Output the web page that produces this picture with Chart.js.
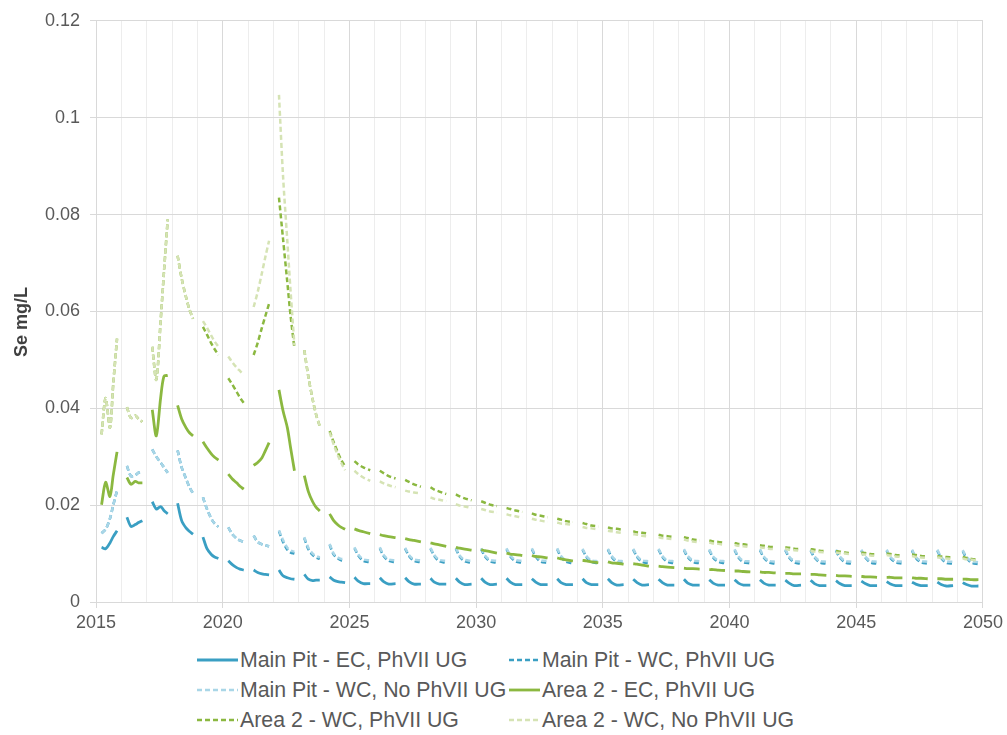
<!DOCTYPE html>
<html>
<head>
<meta charset="utf-8">
<title>Se mg/L</title>
<script src="https://cdn.jsdelivr.net/npm/chart.js@4.4.1/dist/chart.umd.min.js"></script>
<style>
  html, body { margin: 0; padding: 0; background: #fff; }
  #wrap { position: relative; width: 1007px; height: 735px; overflow: hidden; }
  #chart { position: absolute; left: 0; top: 0; }
  #legend { position: absolute; left: 0; top: 640px; width: 1007px; height: 95px;
            font: 21.3px "Liberation Sans", Arial, sans-serif; color: #595959; }
  .item { position: absolute; height: 26px; line-height: 26px; display: flex; align-items: center; white-space: nowrap; }
  .item svg { margin-right: 2px; }
</style>
</head>
<body>
<div id="wrap">
  <canvas id="chart" width="1007" height="640"></canvas>
  <div id="legend"></div>
</div>
<script>
// yearly sampling: each year is one run of points, then a break
const earlyYears = [2015, 2016, 2017, 2018, 2019, 2020, 2021, 2022, 2023, 2024];
const lateYears = [2025, 2026, 2027, 2028, 2029, 2030, 2031, 2032, 2033, 2034, 2035, 2036,
  2037, 2038, 2039, 2040, 2041, 2042, 2043, 2044, 2045, 2046, 2047, 2048, 2049];
const earlyOffsets = [0.22, 0.38, 0.55, 0.68, 0.83];
const lateOffsets = [0.2, 0.35, 0.55, 0.82];

const xTicks = [2015, 2020, 2025, 2030, 2035, 2040, 2045, 2050];
const yTicks = [0, 0.02, 0.04, 0.06, 0.08, 0.1, 0.12];
const yTitle = 'Se mg/L';

const seriesNames = [
  'Main Pit - EC, PhVII UG',
  'Main Pit - WC, PhVII UG',
  'Main Pit - WC, No PhVII UG',
  'Area 2 - EC, PhVII UG',
  'Area 2 - WC, PhVII UG',
  'Area 2 - WC, No PhVII UG'
];

// Se mg/L, early years 5 values per year, later years 4 values per year
const mainPitEC = [
  0.0113, 0.0110, 0.0122, 0.0135, 0.0147,
  0.0175, 0.0156, 0.0160, 0.0164, 0.0168,
  0.0207, 0.0192, 0.0197, 0.0189, 0.0182,
  0.0204, 0.0168, 0.0153, 0.0146, 0.0140,
  0.0134, 0.0110, 0.0098, 0.0093, 0.0090,
  0.0085, 0.0077, 0.0071, 0.0068, 0.0066,
  0.0066, 0.0061, 0.0058, 0.0057, 0.0056,
  0.0066, 0.0054, 0.0050, 0.0048, 0.0047,
  0.0057, 0.0047, 0.0044, 0.0045, 0.0045,
  0.0052, 0.0045, 0.0042, 0.0041, 0.0040,
  0.0051, 0.0043, 0.0038, 0.0038,
  0.0050, 0.0042, 0.0037, 0.0038,
  0.0050, 0.0042, 0.0037, 0.0037,
  0.0049, 0.0041, 0.0037, 0.0037,
  0.0049, 0.0041, 0.0036, 0.0037,
  0.0049, 0.0041, 0.0036, 0.0037,
  0.0049, 0.0041, 0.0036, 0.0036,
  0.0048, 0.0041, 0.0036, 0.0036,
  0.0048, 0.0040, 0.0036, 0.0036,
  0.0048, 0.0040, 0.0036, 0.0036,
  0.0048, 0.0040, 0.0035, 0.0036,
  0.0047, 0.0040, 0.0035, 0.0036,
  0.0047, 0.0040, 0.0035, 0.0035,
  0.0047, 0.0039, 0.0035, 0.0035,
  0.0046, 0.0039, 0.0035, 0.0035,
  0.0046, 0.0039, 0.0035, 0.0035,
  0.0046, 0.0039, 0.0035, 0.0035,
  0.0045, 0.0039, 0.0034, 0.0035,
  0.0045, 0.0038, 0.0034, 0.0034,
  0.0044, 0.0038, 0.0034, 0.0034,
  0.0043, 0.0038, 0.0034, 0.0034,
  0.0042, 0.0037, 0.0034, 0.0034,
  0.0041, 0.0037, 0.0034, 0.0034,
  0.0041, 0.0036, 0.0033, 0.0034,
  0.0040, 0.0036, 0.0033, 0.0033
];

const mainPitWC = [
  0.0142, 0.0150, 0.0172, 0.0200, 0.0230,
  0.0281, 0.0260, 0.0262, 0.0267, 0.0271,
  0.0315, 0.0300, 0.0288, 0.0278, 0.0267,
  0.0313, 0.0278, 0.0255, 0.0238, 0.0224,
  0.0216, 0.0192, 0.0172, 0.0162, 0.0155,
  0.0154, 0.0140, 0.0131, 0.0127, 0.0124,
  0.0137, 0.0124, 0.0119, 0.0117, 0.0115,
  0.0146, 0.0124, 0.0108, 0.0102, 0.0100,
  0.0132, 0.0109, 0.0097, 0.0092, 0.0089,
  0.0118, 0.0098, 0.0090, 0.0086, 0.0085,
  0.0111, 0.0096, 0.0085, 0.0082,
  0.0111, 0.0095, 0.0085, 0.0082,
  0.0110, 0.0095, 0.0085, 0.0082,
  0.0110, 0.0095, 0.0084, 0.0081,
  0.0110, 0.0094, 0.0084, 0.0081,
  0.0109, 0.0094, 0.0084, 0.0081,
  0.0109, 0.0094, 0.0084, 0.0081,
  0.0109, 0.0094, 0.0083, 0.0081,
  0.0109, 0.0093, 0.0083, 0.0080,
  0.0108, 0.0093, 0.0083, 0.0080,
  0.0108, 0.0093, 0.0083, 0.0080,
  0.0108, 0.0093, 0.0083, 0.0080,
  0.0108, 0.0093, 0.0083, 0.0080,
  0.0107, 0.0093, 0.0083, 0.0080,
  0.0107, 0.0092, 0.0083, 0.0080,
  0.0107, 0.0092, 0.0082, 0.0080,
  0.0107, 0.0092, 0.0082, 0.0079,
  0.0107, 0.0092, 0.0082, 0.0079,
  0.0106, 0.0092, 0.0082, 0.0079,
  0.0106, 0.0092, 0.0082, 0.0079,
  0.0106, 0.0092, 0.0082, 0.0079,
  0.0106, 0.0091, 0.0082, 0.0079,
  0.0106, 0.0091, 0.0082, 0.0079,
  0.0106, 0.0091, 0.0081, 0.0079,
  0.0105, 0.0091, 0.0081, 0.0078
];

const mainPitWCNo = [
  0.0142, 0.0150, 0.0172, 0.0200, 0.0230,
  0.0281, 0.0260, 0.0262, 0.0267, 0.0271,
  0.0315, 0.0300, 0.0288, 0.0278, 0.0267,
  0.0313, 0.0278, 0.0255, 0.0238, 0.0224,
  0.0216, 0.0192, 0.0172, 0.0162, 0.0155,
  0.0154, 0.0140, 0.0131, 0.0127, 0.0124,
  0.0137, 0.0124, 0.0119, 0.0117, 0.0115,
  0.0148, 0.0128, 0.0112, 0.0106, 0.0104,
  0.0134, 0.0112, 0.0100, 0.0095, 0.0092,
  0.0120, 0.0100, 0.0092, 0.0089, 0.0088,
  0.0113, 0.0098, 0.0088, 0.0086,
  0.0113, 0.0097, 0.0088, 0.0086,
  0.0112, 0.0097, 0.0088, 0.0086,
  0.0112, 0.0097, 0.0087, 0.0085,
  0.0112, 0.0096, 0.0087, 0.0085,
  0.0111, 0.0096, 0.0087, 0.0085,
  0.0111, 0.0096, 0.0087, 0.0085,
  0.0111, 0.0096, 0.0086, 0.0085,
  0.0111, 0.0095, 0.0086, 0.0084,
  0.0110, 0.0095, 0.0086, 0.0084,
  0.0110, 0.0095, 0.0086, 0.0084,
  0.0110, 0.0095, 0.0086, 0.0084,
  0.0110, 0.0095, 0.0086, 0.0084,
  0.0109, 0.0095, 0.0086, 0.0084,
  0.0109, 0.0094, 0.0086, 0.0084,
  0.0109, 0.0094, 0.0085, 0.0084,
  0.0109, 0.0094, 0.0085, 0.0083,
  0.0109, 0.0094, 0.0085, 0.0083,
  0.0108, 0.0094, 0.0085, 0.0083,
  0.0108, 0.0094, 0.0085, 0.0083,
  0.0108, 0.0094, 0.0085, 0.0083,
  0.0108, 0.0093, 0.0085, 0.0083,
  0.0108, 0.0093, 0.0085, 0.0083,
  0.0108, 0.0093, 0.0084, 0.0083,
  0.0107, 0.0093, 0.0084, 0.0082
];

const area2EC = [
  0.0201, 0.0247, 0.0218, 0.0262, 0.0310,
  0.0257, 0.0243, 0.0249, 0.0246, 0.0246,
  0.0397, 0.0343, 0.0421, 0.0466, 0.0468,
  0.0406, 0.0378, 0.0360, 0.0350, 0.0343,
  0.0331, 0.0318, 0.0306, 0.0299, 0.0293,
  0.0264, 0.0254, 0.0246, 0.0239, 0.0233,
  0.0282, 0.0288, 0.0298, 0.0312, 0.0329,
  0.0438, 0.0395, 0.0360, 0.0318, 0.0271,
  0.0261, 0.0228, 0.0207, 0.0196, 0.0188,
  0.0182, 0.0168, 0.0159, 0.0154, 0.0150,
  0.0151, 0.0148, 0.0145, 0.0141,
  0.0139, 0.0137, 0.0135, 0.0133,
  0.0131, 0.0129, 0.0127, 0.0124,
  0.0122, 0.0120, 0.0118, 0.0115,
  0.0113, 0.0111, 0.0109, 0.0107,
  0.0108, 0.0106, 0.0104, 0.0101,
  0.0101, 0.0099, 0.0098, 0.0096,
  0.0096, 0.0094, 0.0093, 0.0091,
  0.0091, 0.0089, 0.0087, 0.0085,
  0.0086, 0.0085, 0.0083, 0.0081,
  0.0083, 0.0081, 0.0080, 0.0078,
  0.0079, 0.0078, 0.0076, 0.0074,
  0.0074, 0.0073, 0.0072, 0.0071,
  0.0070, 0.0069, 0.0069, 0.0068,
  0.0067, 0.0067, 0.0066, 0.0065,
  0.0064, 0.0064, 0.0063, 0.0062,
  0.0062, 0.0061, 0.0061, 0.0060,
  0.0059, 0.0059, 0.0058, 0.0058,
  0.0057, 0.0057, 0.0056, 0.0055,
  0.0055, 0.0054, 0.0054, 0.0053,
  0.0053, 0.0052, 0.0052, 0.0051,
  0.0051, 0.0051, 0.0050, 0.0050,
  0.0050, 0.0049, 0.0049, 0.0048,
  0.0048, 0.0048, 0.0047, 0.0047,
  0.0047, 0.0047, 0.0046, 0.0046
];

const area2WC = [
  0.0346, 0.0421, 0.0360, 0.0450, 0.0544,
  0.0402, 0.0380, 0.0385, 0.0378, 0.0372,
  0.0527, 0.0459, 0.0580, 0.0680, 0.0790,
  0.0715, 0.0668, 0.0630, 0.0605, 0.0585,
  0.0568, 0.0552, 0.0534, 0.0522, 0.0510,
  0.0462, 0.0449, 0.0434, 0.0422, 0.0411,
  0.0510, 0.0535, 0.0567, 0.0590, 0.0616,
  0.0835, 0.0750, 0.0660, 0.0590, 0.0524,
  0.0520, 0.0465, 0.0418, 0.0388, 0.0363,
  0.0353, 0.0330, 0.0308, 0.0293, 0.0280,
  0.0291, 0.0284, 0.0278, 0.0272,
  0.0271, 0.0266, 0.0260, 0.0255,
  0.0252, 0.0248, 0.0243, 0.0238,
  0.0237, 0.0232, 0.0228, 0.0223,
  0.0222, 0.0218, 0.0214, 0.0210,
  0.0208, 0.0205, 0.0201, 0.0198,
  0.0194, 0.0192, 0.0189, 0.0186,
  0.0183, 0.0180, 0.0178, 0.0175,
  0.0172, 0.0170, 0.0167, 0.0165,
  0.0163, 0.0161, 0.0158, 0.0156,
  0.0154, 0.0152, 0.0151, 0.0149,
  0.0146, 0.0144, 0.0143, 0.0141,
  0.0139, 0.0137, 0.0136, 0.0134,
  0.0134, 0.0132, 0.0129, 0.0127,
  0.0127, 0.0125, 0.0124, 0.0122,
  0.0122, 0.0120, 0.0119, 0.0117,
  0.0117, 0.0116, 0.0114, 0.0113,
  0.0113, 0.0112, 0.0110, 0.0109,
  0.0109, 0.0108, 0.0106, 0.0105,
  0.0105, 0.0104, 0.0102, 0.0101,
  0.0102, 0.0101, 0.0099, 0.0098,
  0.0100, 0.0099, 0.0097, 0.0096,
  0.0098, 0.0097, 0.0095, 0.0094,
  0.0095, 0.0094, 0.0093, 0.0092,
  0.0093, 0.0091, 0.0089, 0.0087
];

const area2WCNo = [
  0.0346, 0.0421, 0.0360, 0.0450, 0.0544,
  0.0402, 0.0380, 0.0385, 0.0378, 0.0372,
  0.0527, 0.0459, 0.0580, 0.0680, 0.0790,
  0.0715, 0.0668, 0.0630, 0.0605, 0.0585,
  0.0580, 0.0566, 0.0550, 0.0538, 0.0527,
  0.0507, 0.0495, 0.0484, 0.0477, 0.0469,
  0.0609, 0.0640, 0.0680, 0.0712, 0.0746,
  0.1047, 0.0880, 0.0745, 0.0640, 0.0530,
  0.0520, 0.0465, 0.0418, 0.0388, 0.0363,
  0.0350, 0.0325, 0.0302, 0.0287, 0.0272,
  0.0271, 0.0264, 0.0257, 0.0250,
  0.0249, 0.0245, 0.0241, 0.0237,
  0.0230, 0.0228, 0.0226, 0.0224,
  0.0216, 0.0213, 0.0211, 0.0208,
  0.0202, 0.0199, 0.0197, 0.0194,
  0.0192, 0.0190, 0.0187, 0.0185,
  0.0181, 0.0179, 0.0177, 0.0174,
  0.0172, 0.0170, 0.0168, 0.0165,
  0.0164, 0.0162, 0.0161, 0.0159,
  0.0155, 0.0153, 0.0152, 0.0150,
  0.0147, 0.0146, 0.0144, 0.0142,
  0.0140, 0.0139, 0.0137, 0.0135,
  0.0134, 0.0132, 0.0131, 0.0129,
  0.0129, 0.0127, 0.0125, 0.0123,
  0.0123, 0.0121, 0.0120, 0.0118,
  0.0118, 0.0116, 0.0115, 0.0113,
  0.0113, 0.0112, 0.0110, 0.0109,
  0.0110, 0.0108, 0.0107, 0.0106,
  0.0106, 0.0104, 0.0103, 0.0102,
  0.0102, 0.0101, 0.0100, 0.0098,
  0.0099, 0.0098, 0.0096, 0.0095,
  0.0097, 0.0096, 0.0094, 0.0093,
  0.0095, 0.0093, 0.0092, 0.0091,
  0.0092, 0.0091, 0.0090, 0.0089,
  0.0090, 0.0088, 0.0087, 0.0085
];

const TEAL = '#3a9fc3';
const LIGHT_BLUE = '#a9d6e7';
const GREEN = '#8bb840';
const LIGHT_GREEN = '#d5e3b4';
const DASH = [5, 3];
const FONT = '"Liberation Sans", Arial, sans-serif';

// turn a flat value list into {x, y} runs with a null between years
function toPoints(values) {
  const pts = [];
  let k = 0;
  earlyYears.forEach(yr => {
    earlyOffsets.forEach(off => pts.push({ x: yr + off, y: values[k++] }));
    pts.push({ x: yr + 0.95, y: null });
  });
  lateYears.forEach(yr => {
    lateOffsets.forEach(off => pts.push({ x: yr + off, y: values[k++] }));
    pts.push({ x: yr + 0.95, y: null });
  });
  return pts;
}

const seriesStyle = [
  { values: mainPitEC, color: TEAL, dash: [], width: 2.8 },
  { values: mainPitWC, color: TEAL, dash: DASH, width: 2.5 },
  { values: mainPitWCNo, color: LIGHT_BLUE, dash: DASH, width: 2.5 },
  { values: area2EC, color: GREEN, dash: [], width: 2.8 },
  { values: area2WC, color: GREEN, dash: DASH, width: 2.5 },
  { values: area2WCNo, color: LIGHT_GREEN, dash: DASH, width: 2.5 }
];

const datasets = seriesStyle.map((s, i) => ({
  label: seriesNames[i],
  data: toPoints(s.values),
  borderColor: s.color,
  backgroundColor: s.color,
  borderWidth: s.width,
  borderDash: s.dash,
  borderCapStyle: 'butt',
  pointRadius: 0,
  tension: 0.3,
  spanGaps: false,
  order: -i // later series paint over earlier ones
}));

// vertical axis caption, placed a little below the plot's middle
const axisCaption = {
  id: 'axisCaption',
  afterDraw(c) {
    const ctx = c.ctx;
    ctx.save();
    ctx.translate(22, 322);
    ctx.rotate(-Math.PI / 2);
    ctx.font = `bold 18px ${FONT}`;
    ctx.fillStyle = '#404040';
    ctx.textAlign = 'center';
    ctx.textBaseline = 'middle';
    ctx.fillText(yTitle, 0, 0);
    ctx.restore();
  }
};

const tickFont = { family: FONT, size: 18 };

const chart = new Chart(document.getElementById('chart'), {
  type: 'line',
  data: { datasets },
  plugins: [axisCaption],
  options: {
    responsive: false,
    animation: false,
    layout: { padding: { top: 17, right: 24, left: 0, bottom: 0 } },
    plugins: { legend: { display: false }, tooltip: { enabled: false } },
    scales: {
      x: {
        type: 'linear',
        min: xTicks[0],
        max: xTicks[xTicks.length - 1],
        afterFit: s => { s.height = 38; },
        ticks: {
          stepSize: 1,
          autoSkip: false,
          maxRotation: 0,
          padding: 4,
          color: '#595959',
          font: tickFont,
          callback: v => (xTicks.includes(v) ? String(v) : '')
        },
        grid: {
          color: c => (c.tick && c.tick.value % 5 === 0 ? '#d9d9d9' : '#ededed'),
          tickColor: c => (c.tick && c.tick.value % 5 === 0 ? '#d9d9d9' : 'rgba(0,0,0,0)'),
          tickLength: 6,
          lineWidth: 1
        },
        border: { color: '#d9d9d9' }
      },
      y: {
        min: yTicks[0],
        max: yTicks[yTicks.length - 1],
        afterFit: s => { s.width = 96; },
        ticks: {
          stepSize: 0.02,
          padding: 10,
          color: '#595959',
          font: tickFont,
          callback: v => String(+v.toFixed(2))
        },
        grid: { color: '#d9d9d9', tickColor: '#d9d9d9', tickLength: 6 },
        border: { color: '#d9d9d9' }
      }
    }
  }
});

// two-column legend under the plot
const legendSlots = [
  { left: 197, top: 7, w: 41 },
  { left: 509, top: 7, w: 31 },
  { left: 197, top: 37, w: 41 },
  { left: 509, top: 37, w: 31 },
  { left: 197, top: 67, w: 41 },
  { left: 509, top: 67, w: 31 }
];

const legendBox = document.getElementById('legend');
chart.data.datasets.forEach((ds, i) => {
  const slot = legendSlots[i];
  const item = document.createElement('div');
  item.className = 'item';
  item.style.left = slot.left + 'px';
  item.style.top = slot.top + 'px';
  const dash = ds.borderDash.length ? ds.borderDash.join(' ') : 'none';
  item.innerHTML =
    `<svg width="${slot.w}" height="6"><line x1="0" y1="3" x2="${slot.w}" y2="3" stroke="${ds.borderColor}" ` +
    `stroke-width="${ds.borderWidth}" stroke-dasharray="${dash}"/></svg><span>${ds.label}</span>`;
  legendBox.appendChild(item);
});
</script>
</body>
</html>
